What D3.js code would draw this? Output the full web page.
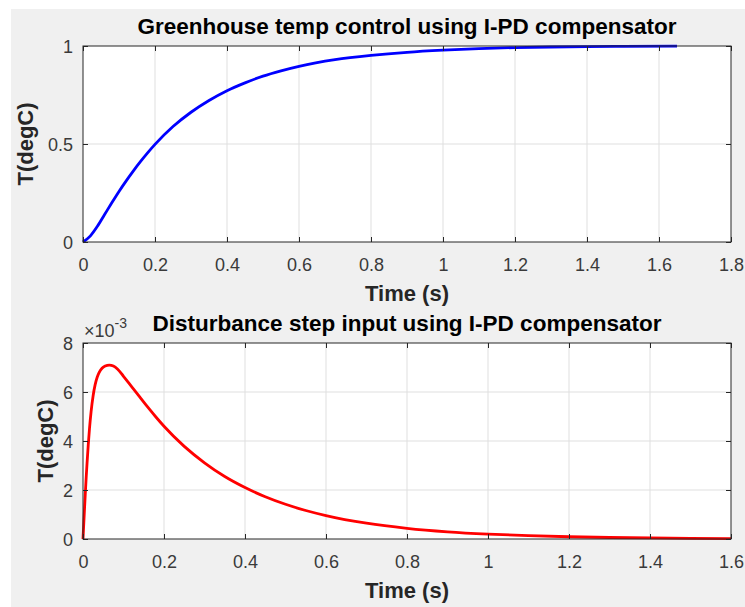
<!DOCTYPE html>
<html>
<head>
<meta charset="utf-8">
<script src="https://cdn.jsdelivr.net/npm/d3@7"></script>
<style>
  body { margin: 0; background: #fff; }
  text { font-family: "Liberation Sans", Arial, sans-serif; }
</style>
</head>
<body>
<div id="chart"></div>
<script>
// step response (top plot)
var stepTime = [0, 0.02, 0.04, 0.06, 0.08, 0.1, 0.12, 0.14, 0.16, 0.18, 0.2, 0.25, 0.3, 0.35, 0.4, 0.45, 0.5, 0.55, 0.6, 0.7, 0.8, 0.9, 1.0, 1.1, 1.2, 1.3, 1.4, 1.5, 1.65];
var stepTemp = [0, 0.03, 0.08, 0.14, 0.2, 0.258, 0.312, 0.363, 0.411, 0.456, 0.498, 0.589, 0.662, 0.722, 0.772, 0.812, 0.846, 0.873, 0.896, 0.93, 0.952, 0.968, 0.979, 0.987, 0.992, 0.995, 0.997, 0.998, 0.999];

// disturbance response (bottom plot), values in degC
var distTime = [0, 0.002, 0.004, 0.006, 0.008, 0.01, 0.013, 0.016, 0.02, 0.025, 0.03, 0.035, 0.04, 0.047, 0.055, 0.065, 0.075, 0.085, 0.1, 0.12, 0.14, 0.16, 0.18, 0.2, 0.25, 0.3, 0.35, 0.4, 0.45, 0.5, 0.55, 0.6, 0.7, 0.8, 0.9, 1.0, 1.1, 1.2, 1.3, 1.4, 1.5, 1.6];
var distTemp = [0, 0.67e-3, 1.32e-3, 1.95e-3, 2.55e-3, 3.1e-3, 3.85e-3, 4.5e-3, 5.2e-3, 5.85e-3, 6.3e-3, 6.6e-3, 6.8e-3, 6.97e-3, 7.06e-3, 7.1e-3, 7.06e-3, 6.94e-3, 6.64e-3, 6.22e-3, 5.8e-3, 5.38e-3, 4.98e-3, 4.6e-3, 3.78e-3, 3.11e-3, 2.55e-3, 2.1e-3, 1.725e-3, 1.417e-3, 1.164e-3, 0.957e-3, 0.646e-3, 0.437e-3, 0.295e-3, 0.2e-3, 0.135e-3, 0.091e-3, 0.062e-3, 0.042e-3, 0.028e-3, 0.019e-3];

var topXTicks = [0, 0.2, 0.4, 0.6, 0.8, 1, 1.2, 1.4, 1.6, 1.8];
var topYTicks = [0, 0.5, 1];
var botXTicks = [0, 0.2, 0.4, 0.6, 0.8, 1, 1.2, 1.4, 1.6];
var botYTicks = [0, 2e-3, 4e-3, 6e-3, 8e-3];

var titles = ["Greenhouse temp control using I-PD compensator", "Disturbance step input using I-PD compensator"];
var xLabel = "Time (s)";
var yLabel = "T(degC)";

var W = 745, H = 607;
var svg = d3.select("#chart").append("svg")
  .attr("width", W)
  .attr("height", H);

// figure background
svg.append("rect")
  .attr("x", 11).attr("y", 9)
  .attr("width", W - 11).attr("height", H - 9)
  .attr("fill", "#f0f0f0");

function drawPlot(opt) {
  var x = d3.scaleLinear().domain(opt.xDomain).range([opt.left, opt.right]);
  var y = d3.scaleLinear().domain(opt.yDomain).range([opt.bottom, opt.top]);
  var g = svg.append("g");

  g.append("rect")
    .attr("x", opt.left).attr("y", opt.top)
    .attr("width", opt.right - opt.left).attr("height", opt.bottom - opt.top)
    .attr("fill", "#fff");

  // grid
  g.selectAll(".vgrid").data(opt.xTicks.slice(1, -1)).enter().append("line")
    .attr("x1", d => x(d)).attr("x2", d => x(d))
    .attr("y1", opt.top).attr("y2", opt.bottom)
    .attr("stroke", "#dfdfdf").attr("stroke-width", 1);
  g.selectAll(".hgrid").data(opt.yTicks.slice(1, -1)).enter().append("line")
    .attr("x1", opt.left).attr("x2", opt.right)
    .attr("y1", d => y(d)).attr("y2", d => y(d))
    .attr("stroke", "#dfdfdf").attr("stroke-width", 1);

  // the curve
  var line = d3.line()
    .x(d => x(d[0]))
    .y(d => y(d[1]))
    .curve(d3.curveMonotoneX);
  g.append("path")
    .datum(opt.t.map((t, i) => [t, opt.v[i]]))
    .attr("d", line)
    .attr("fill", "none")
    .attr("stroke", opt.color)
    .attr("stroke-width", 2.8)
    .attr("stroke-linejoin", "round");

  // axes, ticks pointing inward
  var bottomAxis = d3.axisBottom(x).tickValues(opt.xTicks).tickSizeInner(-5).tickSizeOuter(0).tickPadding(16).tickFormat(d3.format(""));
  var topAxis = d3.axisTop(x).tickValues(opt.xTicks).tickSizeInner(-5).tickSizeOuter(0).tickFormat("");
  var leftAxis = d3.axisLeft(y).tickValues(opt.yTicks).tickSizeInner(-5).tickSizeOuter(0).tickPadding(10).tickFormat(opt.fmt);
  var rightAxis = d3.axisRight(y).tickValues(opt.yTicks).tickSizeInner(-5).tickSizeOuter(0).tickFormat("");

  var ax = [
    g.append("g").attr("transform", "translate(0," + opt.bottom + ")").call(bottomAxis),
    g.append("g").attr("transform", "translate(0," + opt.top + ")").call(topAxis),
    g.append("g").attr("transform", "translate(" + opt.left + ",0)").call(leftAxis),
    g.append("g").attr("transform", "translate(" + opt.right + ",0)").call(rightAxis)
  ];
  ax.forEach(function(a) {
    a.select(".domain").remove();
    a.selectAll("line").attr("stroke", "#262626");
    a.selectAll("text").attr("fill", "#3a3a3a").style("font-size", "18px").attr("font-family", null);
  });
  ax[2].selectAll("text").attr("dy", "0.36em");

  g.append("rect")
    .attr("x", opt.left).attr("y", opt.top)
    .attr("width", opt.right - opt.left).attr("height", opt.bottom - opt.top)
    .attr("fill", "none").attr("stroke", "#262626").attr("stroke-width", 1);

  // title and labels
  g.append("text")
    .attr("x", (opt.left + opt.right) / 2).attr("y", opt.top - 12)
    .attr("text-anchor", "middle")
    .style("font-size", "22.5px").style("font-weight", "bold")
    .attr("fill", "#000")
    .text(opt.title);
  g.append("text")
    .attr("x", (opt.left + opt.right) / 2).attr("y", opt.bottom + 59)
    .attr("text-anchor", "middle")
    .style("font-size", "22px").style("font-weight", "bold")
    .attr("fill", "#262626")
    .text(xLabel);
  g.append("text")
    .attr("transform", "translate(" + opt.yLabelX + "," + ((opt.top + opt.bottom) / 2) + ") rotate(-90)")
    .attr("text-anchor", "middle")
    .style("font-size", "22px").style("font-weight", "bold")
    .attr("fill", "#262626")
    .text(yLabel);

  return g;
}

drawPlot({
  left: 83, right: 731, top: 46, bottom: 242,
  xDomain: [0, 1.8], yDomain: [0, 1],
  xTicks: topXTicks, yTicks: topYTicks,
  t: stepTime, v: stepTemp, color: "#0000ff",
  fmt: d3.format(""), title: titles[0], yLabelX: 33
});

var g2 = drawPlot({
  left: 83, right: 731, top: 343, bottom: 539,
  xDomain: [0, 1.6], yDomain: [0, 8e-3],
  xTicks: botXTicks, yTicks: botYTicks,
  t: distTime, v: distTemp, color: "#ff0000",
  fmt: d => String(Math.round(d * 1000)), title: titles[1], yLabelX: 53
});

// exponent label
var expo = g2.append("text")
  .attr("x", 84).attr("y", 337)
  .attr("fill", "#3a3a3a")
  .style("font-size", "18px");
expo.append("tspan").text("\u00d710");
expo.append("tspan").attr("dy", -9).style("font-size", "14px").text("-3");
</script>
</body>
</html>
